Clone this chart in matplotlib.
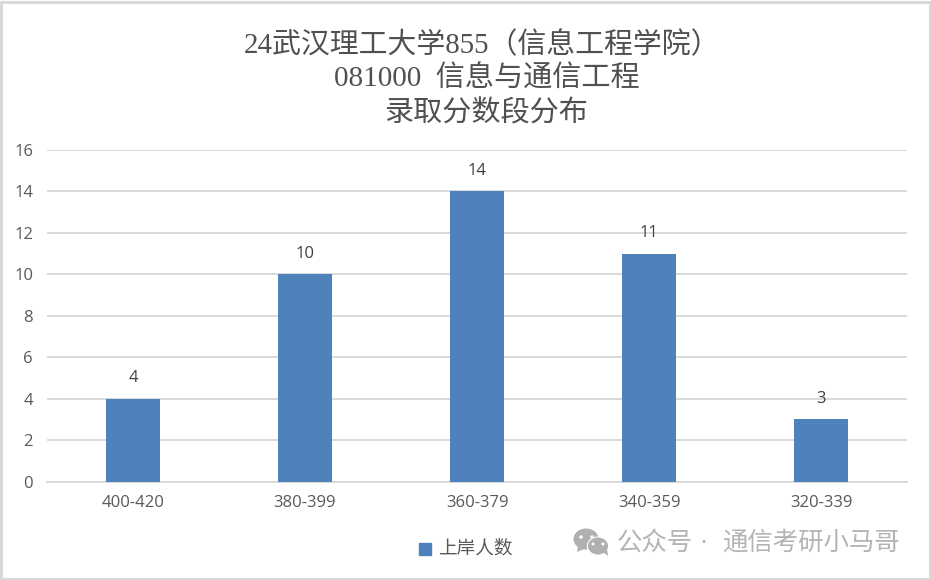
import matplotlib
matplotlib.use("Agg")
import matplotlib.pyplot as plt
from matplotlib.patches import Ellipse, Rectangle, Polygon

categories = ["400-420", "380-399", "360-379", "340-359", "320-339"]
values = [4, 10, 14, 11, 3]
series_name = "上岸人数"
title_lines = ["24武汉理工大学855（信息工程学院）", "081000  信息与通信工程", "录取分数段分布"]
watermark_parts = ["公众号", "·", "通信考研小马哥"]

W, H = 931, 580
SANS = ["Open Sans", "Noto Sans CJK SC"]
SERIF = ["Liberation Serif", "Noto Sans CJK SC"]
TXT = "#595959"

fig = plt.figure(figsize=(W / 100, H / 100), dpi=100, facecolor="white")
ax = fig.add_axes([47 / W, 1 - 481.5 / H, 860 / W, 331.5 / H])
ax.bar(range(len(values)), values, width=0.314, color="#4f81bd", zorder=3)
ax.set_xlim(-0.5, 4.5)
ax.set_ylim(0, 16)
ax.set_yticks(range(0, 17, 2))
ax.set_xticks(range(len(categories)))
ax.set_xticklabels(categories)
ax.grid(axis="y", color="#d9d9d9", lw=1.4, zorder=0)
ax.set_axisbelow(True)
for s in ["top", "right", "left"]:
    ax.spines[s].set_visible(False)
ax.spines["bottom"].set_color("#d9d9d9")
ax.spines["bottom"].set_linewidth(1.4)
ax.tick_params(axis="both", length=0, labelsize=12, labelcolor=TXT)
ax.tick_params(axis="x", pad=10)
ax.tick_params(axis="y", pad=10)
for lab in ax.get_xticklabels() + ax.get_yticklabels():
    lab.set_family(SANS)
for i, v in enumerate(values):
    ax.annotate(str(v), (i, v), xytext=(0, 9), textcoords="offset points",
                ha="center", va="bottom", fontsize=12, color="#404040", family=SANS)

for text, x, y, fs in zip(title_lines, [481.5, 486.5, 486.5], [45, 79, 114], [20.8, 21, 21]):
    fig.text(x / W, 1 - y / H, text, ha="center", va="center", fontsize=fs,
             color="#505050", family=SERIF)

# legend
fig.add_artist(Rectangle((418.5 / W, 1 - 554.5 / H), 12 / W, 12 / H, transform=fig.transFigure,
                         color="#4f81bd"))
fig.text(438 / W, 1 - 549 / H, series_name, ha="left", va="center", fontsize=13.4,
         color=TXT, family=SERIF)

# watermark icon
gray = "#b0b0b0"
def ell(cx, cy, w, h, c=gray):
    fig.add_artist(Ellipse((cx / W, 1 - cy / H), w / W, h / H, transform=fig.transFigure, color=c, lw=0))
fig.add_artist(Polygon([(578 / W, 1 - 546 / H), (577 / W, 1 - 552 / H), (584 / W, 1 - 549 / H)],
                       transform=fig.transFigure, color=gray, lw=0))
ell(586, 539, 25, 21)
ell(581, 537, 3.5, 3.5, "white")
ell(592, 537, 3.5, 3.5, "white")
ell(598, 546, 22.5, 19, "white")
ell(598, 546, 20, 17)
fig.add_artist(Polygon([(603 / W, 1 - 552 / H), (608 / W, 1 - 556 / H), (607 / W, 1 - 549 / H)],
                       transform=fig.transFigure, color=gray, lw=0))
ell(593, 544, 3, 3, "white")
ell(603, 544, 3, 3, "white")
fig.text(617 / W, 1 - 543 / H, watermark_parts[0], ha="left", va="center", fontsize=18.3,
         color="#b4b4b4", family=["Noto Sans CJK SC", "DejaVu Sans"])
fig.text(703 / W, 1 - 543 / H, watermark_parts[1], ha="center", va="center", fontsize=18.3,
         color="#b4b4b4", family="DejaVu Sans")
fig.text(722 / W, 1 - 543 / H, watermark_parts[2], ha="left", va="center", fontsize=18.3,
         color="#b4b4b4", family=["Noto Sans CJK SC", "DejaVu Sans"])

# outer border
fig.add_artist(Rectangle((1 / W, 1 / H), (W - 2) / W, (H - 3) / H, transform=fig.transFigure,
                         fill=False, ec="#d9d9d9", lw=2.2))
fig.savefig("out.png", dpi=100, facecolor="white")
